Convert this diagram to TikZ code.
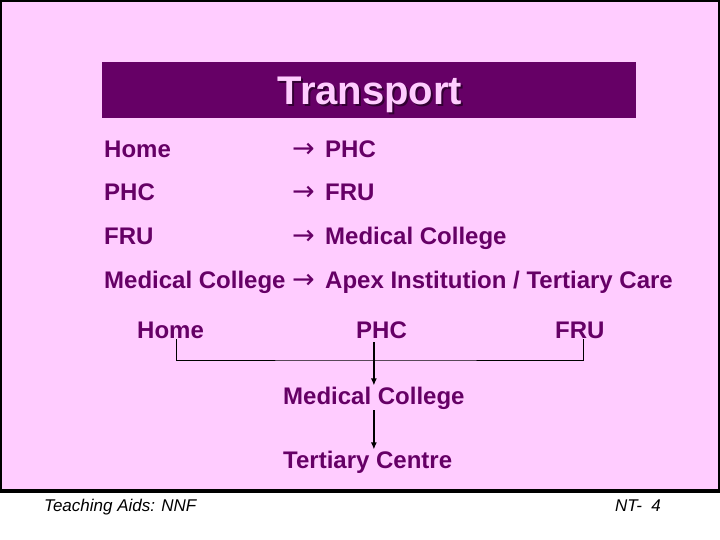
\documentclass[tikz,border=0pt]{standalone}
\usepackage{fontspec}
\setmainfont{Liberation Sans}
\newfontfamily\arrowfont{DejaVu Sans}
\usepackage{tikz}
\usetikzlibrary{shapes,arrows,arrows.meta,positioning}
\definecolor{slidepink}{HTML}{FFCCFF}
\definecolor{plum}{HTML}{660066}
\definecolor{plumshadow}{HTML}{330033}
\newcommand{\goesto}{\makebox[33pt][l]{\arrowfont\mdseries\fontsize{27}{30}\selectfont\char"2192}}

\begin{document}
\begin{tikzpicture}[
            x=1pt, y=-1pt,
            item/.style={anchor=base west, inner sep=0pt, text=plum, font=\bfseries\fontsize{24}{28}\selectfont},
            level/.style={item, inner sep=1pt},
            footer/.style={anchor=base west, inner sep=0pt, font=\itshape\fontsize{17}{20}\selectfont},
            arrow/.style={-{Latex[length=7pt,width=6pt]}, line width=1.3pt},
            bus/.style={line width=1pt}
        ]
            \useasboundingbox (0,0) rectangle (720,540);
            % slide background and title bar
            \filldraw[fill=slidepink, draw=black, line width=2pt] (1,1) rectangle (718.5,491);
            \draw[line width=3.5pt] (0,491) -- (720,491);
            \fill[plum] (102,62) rectangle (636,118);
            \node[anchor=base, inner sep=0pt, text=plumshadow, font=\bfseries\fontsize{40}{46}\selectfont] at (372,107) {Transport};
            \node[anchor=base, inner sep=0pt, text=slidepink, font=\bfseries\fontsize{40}{46}\selectfont] (title) at (370,105) {Transport};

            % list of transfers
            \node[item] (from1) at (104,158) {Home};
            \node[item] (to1) at (292,158) {\goesto PHC};
            \node[item] (from2) at (104,201) {PHC};
            \node[item] (to2) at (292,201) {\goesto FRU};
            \node[item] (from3) at (104,244) {FRU};
            \node[item] (to3) at (292,244) {\goesto Medical College};
            \node[item] (from4) at (104,288) {Medical College};
            \node[item] (to4) at (292,288) {\goesto Apex Institution / Tertiary Care};

            % referral chart
            \node[level] (home) at (136,338) {Home};
            \node[level] (phc) at (355,338) {PHC};
            \node[level] (fru) at (554,338) {FRU};
            \node[level] (college) at (282,404) {Medical College};
            \node[level] (tertiary) at (282,468) {Tertiary Centre};
            \coordinate (join) at (372,360);

            \draw[bus] ([xshift=6pt]home.south) |- (join) -| ([xshift=4pt]fru.south);
            \draw[arrow] ([yshift=-3pt]college.north |- phc.south) -- (college.north);
            \draw[arrow] (college.south) -- (college.south |- tertiary.north);

            % footer
            \node[footer] (aids) at (44,511) {Teaching Aids: NNF};
            \node[footer] (slideno) at (615,511) {NT-\ \ 4};
        \end{tikzpicture}
\end{document}
